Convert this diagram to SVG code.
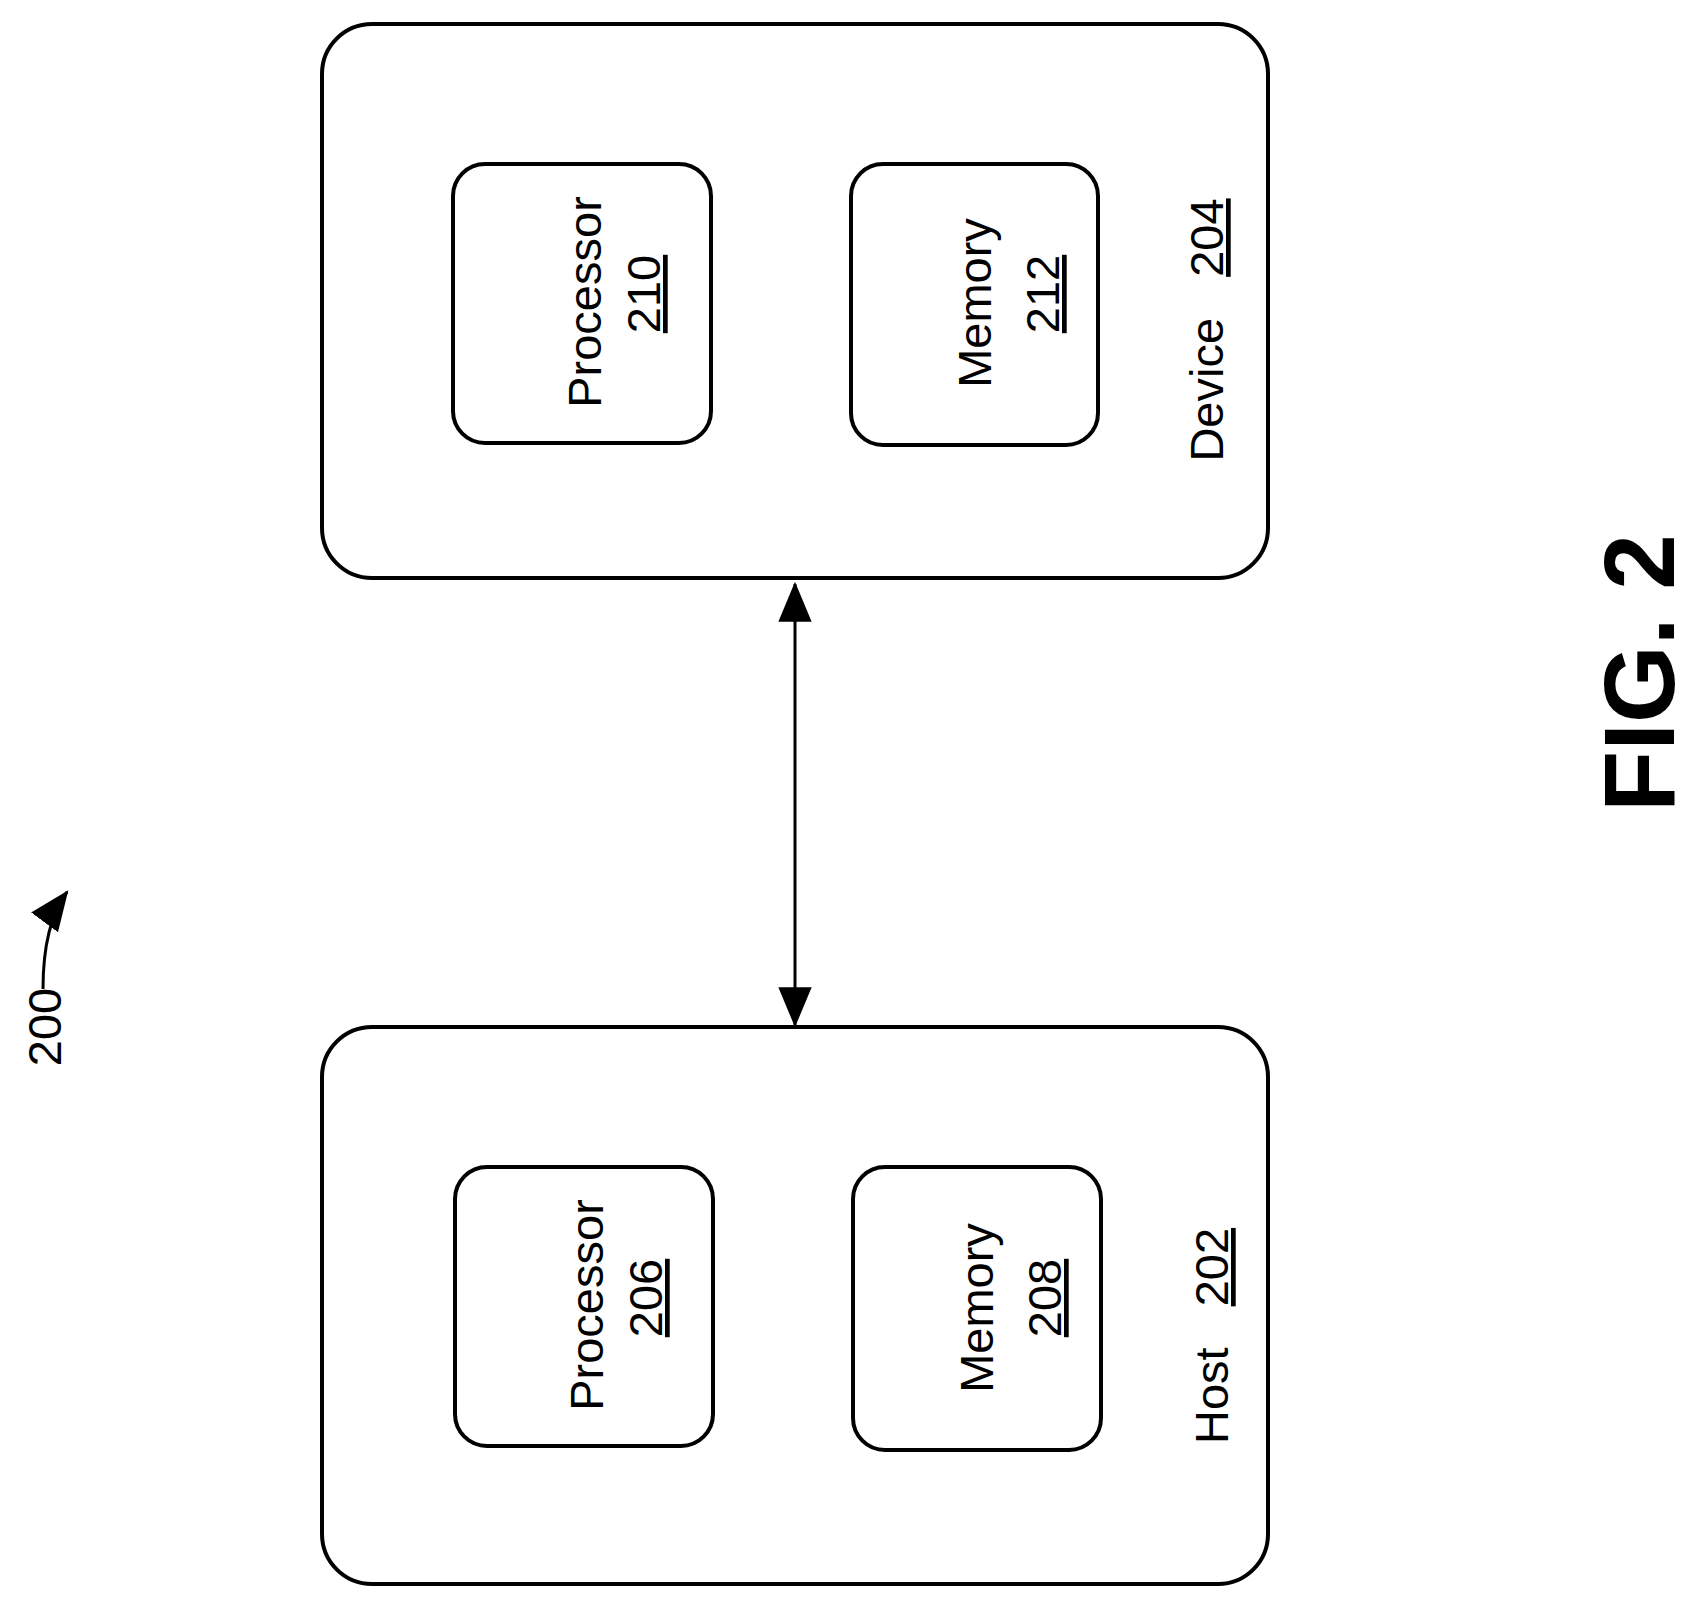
<svg xmlns="http://www.w3.org/2000/svg" width="1695" height="1606" viewBox="0 0 1695 1606">
<style>
.box{fill:none;stroke:#000;stroke-width:4}
.t{font-family:"Liberation Sans",Arial,sans-serif;font-size:47px;fill:#000;text-anchor:middle}
.u{text-decoration:underline}
.c{fill:none;stroke:#000;stroke-width:3}
</style>
<defs>
<marker id="ah" markerUnits="userSpaceOnUse" markerWidth="40" markerHeight="40" refX="34" refY="15" orient="auto-start-reverse" viewBox="0 0 36 30">
<path d="M0,0 L36,15 L0,30 Z" fill="#000"/>
</marker>
</defs>
<rect width="1695" height="1606" fill="#fff"/>
<g id="device204">
<rect class="box" x="322" y="24" width="946" height="554" rx="50"/>
<text class="t" transform="translate(1223,330) rotate(-90)">Device <tspan dx="28" class="u">204</tspan></text>
</g>
<g id="processor210">
<rect class="box" x="453" y="164" width="258" height="279" rx="32"/>
<text class="t" transform="translate(601,302) rotate(-90)">Processor</text>
<text class="t u" transform="translate(660,294) rotate(-90)">210</text>
</g>
<g id="memory212">
<rect class="box" x="851" y="164" width="247" height="281" rx="32"/>
<text class="t" transform="translate(991,303) rotate(-90)">Memory</text>
<text class="t u" transform="translate(1059,294) rotate(-90)">212</text>
</g>
<g id="host202">
<rect class="box" x="322" y="1027" width="946" height="557" rx="50"/>
<text class="t" transform="translate(1228,1336) rotate(-90)">Host <tspan dx="28" class="u">202</tspan></text>
</g>
<g id="processor206">
<rect class="box" x="455" y="1167" width="258" height="279" rx="32"/>
<text class="t" transform="translate(603,1305) rotate(-90)">Processor</text>
<text class="t u" transform="translate(662,1298) rotate(-90)">206</text>
</g>
<g id="memory208">
<rect class="box" x="853" y="1167" width="248" height="283" rx="32"/>
<text class="t" transform="translate(993,1308) rotate(-90)">Memory</text>
<text class="t u" transform="translate(1061,1298) rotate(-90)">208</text>
</g>
<g id="label200">
<text class="t" transform="translate(61,1027) rotate(-90)">200</text>
</g>
<g id="connectors">
<line class="c" x1="795" y1="1025" x2="795" y2="584" marker-start="url(#ah)" marker-end="url(#ah)"/>
<path class="c" d="M43,989 C43,950 50,915 67,892" marker-end="url(#ah)"/>
</g>
<text transform="translate(1674,673) rotate(-90)" style="font-family:'Liberation Sans',Arial,sans-serif;font-weight:bold;font-size:100px;text-anchor:middle">FIG. 2</text>
</svg>
